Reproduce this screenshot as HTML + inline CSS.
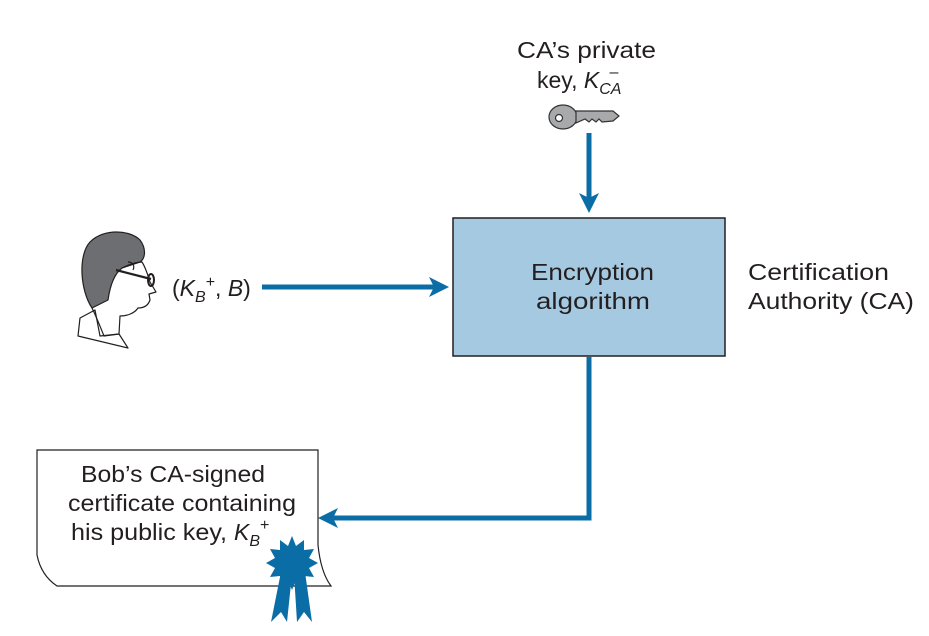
<!DOCTYPE html>
<html><head><style>body{margin:0;background:#fff}svg{display:block}text{font-family:"Liberation Sans",sans-serif;fill:#231f20}</style></head>
<body>
<svg width="929" height="636" viewBox="0 0 929 636" xmlns="http://www.w3.org/2000/svg">
<defs><marker id="a" markerWidth="4" markerHeight="4" refX="3" refY="2" orient="auto" markerUnits="strokeWidth"><path d="M0,0 L4,2 L0,4 L1,2 z" fill="#0b6da6"/></marker></defs>
<text x="517" y="58" font-size="23" textLength="139" lengthAdjust="spacingAndGlyphs">CA’s private</text>
<text x="537" y="88" font-size="23">key, <tspan font-style="italic">K</tspan><tspan font-style="italic" font-size="16" dy="6">CA</tspan><tspan font-size="16" dy="-17" dx="-12">–</tspan></text>
<!-- key -->
<g stroke="#333" stroke-width="1.2">
<ellipse cx="563" cy="117" rx="14" ry="12" fill="#a8a9ab"/>
<path d="M576,111 L613,111 L619,116 L613,121 L602,122 L599,119 L596,122 L592,119 L589,122 L585,119 L576,123 Z" fill="#a8a9ab"/>
<circle cx="559" cy="118" r="3.5" fill="#fff"/>
</g>
<g stroke="#0b6da6" stroke-width="5" fill="none">
<line x1="589" y1="133" x2="589" y2="208" marker-end="url(#a)"/>
<line x1="262" y1="287" x2="444" y2="287" marker-end="url(#a)"/>
<polyline points="589,357 589,518 323,518" marker-end="url(#a)"/>
</g>
<rect x="453" y="218" width="272" height="138" fill="#a6c9e2" stroke="#231f20" stroke-width="1.5"/>
<text x="531" y="280" font-size="23" textLength="123" lengthAdjust="spacingAndGlyphs">Encryption</text>
<text x="536" y="309" font-size="23" textLength="114" lengthAdjust="spacingAndGlyphs">algorithm</text>
<text x="748" y="280" font-size="23" textLength="141" lengthAdjust="spacingAndGlyphs">Certification</text>
<text x="748" y="309" font-size="23" textLength="166" lengthAdjust="spacingAndGlyphs">Authority (CA)</text>
<text x="172" y="296" font-size="23">(<tspan font-style="italic">K</tspan><tspan font-style="italic" font-size="16" dy="6">B</tspan><tspan font-size="16" dy="-15">+</tspan><tspan dy="9">, </tspan><tspan font-style="italic">B</tspan>)</text>
<!-- face -->
<g stroke="#231f20" stroke-width="1.2" stroke-linejoin="round">
<path d="M92,308 C80,290 78,255 90,242 C104,228 130,230 140,240 C146,248 146,258 140,262 L122,268 C114,274 110,286 108,300 Z" fill="#6d6e71"/>
<path d="M122,268 C128,265 136,262 142,262 C146,268 148,276 150,282 L156,292 L149,294 L150,300 C148,306 143,308 138,308 C134,314 126,316 120,316 L119,334 L104,336 C100,326 96,316 92,308" fill="none"/>
<path d="M80,318 L95,310 L100,336 L119,334 L128,348 L78,336 Z" fill="none"/>
<line x1="116" y1="270" x2="151" y2="279" stroke-width="2.2"/>
<ellipse cx="151" cy="280" rx="3" ry="6" fill="none" stroke-width="2"/>
<path d="M128,262 C133,262 135,266 133,270" fill="none"/>
</g>
<!-- certificate -->
<path d="M37,450 L318,450 L318,545 C320,565 325,578 331,586 L57,586 C48,580 40,570 37,555 Z" fill="#fff" stroke="#231f20" stroke-width="1.2"/>
<text x="81" y="482" font-size="23" textLength="184" lengthAdjust="spacingAndGlyphs">Bob’s CA-signed</text>
<text x="68" y="511" font-size="23" textLength="228" lengthAdjust="spacingAndGlyphs">certificate containing</text>
<text x="71" y="540" font-size="23"><tspan textLength="163" lengthAdjust="spacingAndGlyphs">his public key, </tspan><tspan font-style="italic">K</tspan><tspan font-style="italic" font-size="16" dy="6">B</tspan><tspan font-size="16" dy="-16">+</tspan></text>
<!-- ribbon -->
<path d="M281,572 L271,622 L281,612 L287,622 L292,574 Z M294,574 L297,622 L304,612 L312,622 L305,572 Z" fill="#0b6da6"/>
<polygon fill="#0b6da6" points="292,536 296,546 304,540 304,550 314,549 309,558 318,563 309,568 314,577 304,576 304,586 296,580 292,590 288,580 280,586 280,576 270,577 275,568 266,563 275,558 270,549 280,550 280,540 288,546"/>
</svg>
</body></html>
